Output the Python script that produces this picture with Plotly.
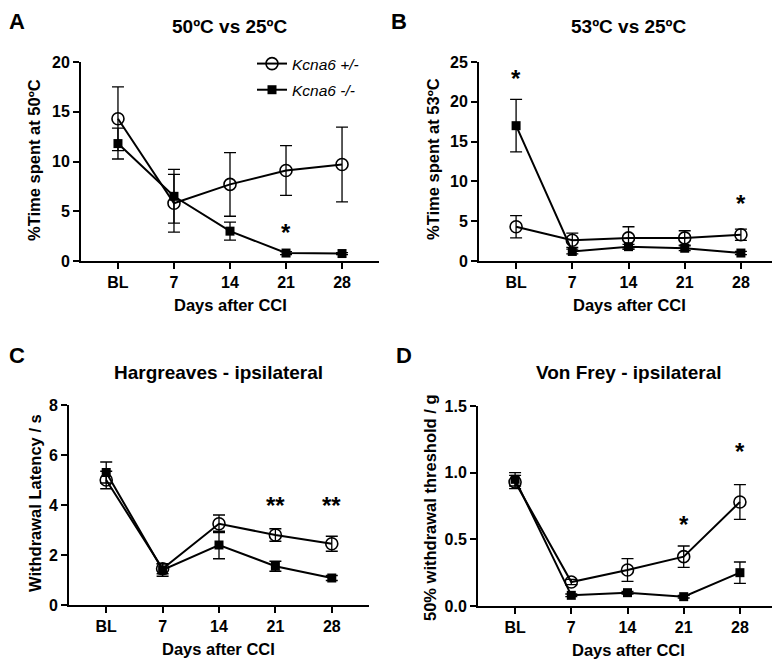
import plotly.graph_objects as go

W, H = 780, 661
OFF = 8  # page body margin offset

categories = ["BL", "7", "14", "21", "28"]

# Panel A: 50ºC vs 25ºC
a_het = [14.3, 5.8, 7.7, 9.1, 9.7]
a_het_err = [3.2, 2.9, 3.2, 2.5, 3.75]
a_ko = [11.8, 6.5, 3.0, 0.8, 0.75]
a_ko_err = [1.55, 2.7, 0.9, 0.15, 0.1]
a_stars = [("21", 3.4, "*")]

# Panel B: 53ºC vs 25ºC
b_het = [4.3, 2.6, 2.9, 2.9, 3.3]
b_het_err = [1.4, 0.9, 1.4, 0.9, 0.7]
b_ko = [17.0, 1.2, 1.8, 1.6, 1.0]
b_ko_err = [3.3, 0.3, 0.3, 0.3, 0.2]
b_stars = [("BL", 23.5, "*"), ("28", 7.9, "*")]

# Panel C: Hargreaves
c_het = [5.0, 1.45, 3.25, 2.8, 2.45]
c_het_err = [0.35, 0.2, 0.35, 0.25, 0.3]
c_ko = [5.3, 1.4, 2.4, 1.55, 1.08]
c_ko_err = [0.42, 0.25, 0.55, 0.2, 0.1]
c_stars = [("21", 4.2, "**"), ("28", 4.2, "**")]

# Panel D: Von Frey
d_het = [0.93, 0.18, 0.27, 0.37, 0.78]
d_het_err = [0.05, 0.02, 0.085, 0.08, 0.13]
d_ko = [0.95, 0.08, 0.10, 0.07, 0.25]
d_ko_err = [0.05, 0.01, 0.01, 0.01, 0.08]
d_stars = [("21", 0.65, "*"), ("28", 1.195, "*")]

het_name = "<i>Kcna6 +/-</i>"
ko_name = "<i>Kcna6 -/-</i>"

FONT = "Liberation Sans, Arial, sans-serif"


def px(x):
    return max(x - OFF, 0) / W


def py(y):
    return 1 - max(y - OFF, 0) / H


panels = [
    dict(het=a_het, het_err=a_het_err, ko=a_ko, ko_err=a_ko_err, stars=a_stars,
         yrange=[0, 20], dtick=5, fmt="d",
         box=(81, 379, 62, 261), title="50ºC vs 25ºC", title_pos=(230, 27),
         ytitle="%Time spent at 50ºC", ytitle_pos=(34, 160),
         letter="A", letter_pos=(2, 0)),
    dict(het=b_het, het_err=b_het_err, ko=b_ko, ko_err=b_ko_err, stars=b_stars,
         yrange=[0, 25], dtick=5, fmt="d",
         box=(479, 778, 62, 261), title="53ºC vs 25ºC", title_pos=(629, 27),
         ytitle="%Time spent at 53ºC", ytitle_pos=(433, 159),
         letter="B", letter_pos=(390, 0)),
    dict(het=c_het, het_err=c_het_err, ko=c_ko, ko_err=c_ko_err, stars=c_stars,
         yrange=[0, 8], dtick=2, fmt="d",
         box=(69, 369, 405, 605), title="Hargreaves - ipsilateral", title_pos=(218, 372),
         ytitle="Withdrawal Latency / s", ytitle_pos=(35, 503),
         letter="C", letter_pos=(2, 342)),
    dict(het=d_het, het_err=d_het_err, ko=d_ko, ko_err=d_ko_err, stars=d_stars,
         yrange=[0, 1.5], dtick=0.5, fmt=".1f",
         box=(478, 777, 406, 606), title="Von Frey - ipsilateral", title_pos=(628, 373),
         ytitle="50% withdrawal threshold / g", ytitle_pos=(430, 508),
         letter="D", letter_pos=(395, 342)),
]

fig = go.Figure()
annotations = []

for i, p in enumerate(panels):
    n = "" if i == 0 else str(i + 1)
    xa, ya = "x" + n, "y" + n
    l, r, t, b = p["box"]
    fig.add_trace(go.Scatter(
        x=categories, y=p["ko"], xaxis=xa, yaxis=ya, name=ko_name,
        mode="lines+markers", showlegend=False,
        line=dict(color="black", width=2),
        marker=dict(symbol="square", size=9, color="black"),
        error_y=dict(type="data", array=p["ko_err"], color="black", thickness=1.3, width=6),
        cliponaxis=False,
    ))
    fig.add_trace(go.Scatter(
        x=categories, y=p["het"], xaxis=xa, yaxis=ya, name=het_name,
        mode="lines+markers", showlegend=False,
        line=dict(color="black", width=2),
        marker=dict(symbol="circle-open", size=12, color="black", line=dict(width=1.6)),
        error_y=dict(type="data", array=p["het_err"], color="black", thickness=1.3, width=6),
        cliponaxis=False,
    ))
    axis_common = dict(
        showline=True, linecolor="black", linewidth=2,
        ticks="outside", ticklen=6, tickwidth=2, tickcolor="black",
        showgrid=False, zeroline=False, automargin=False,
        tickfont=dict(family=FONT, size=16, color="black", weight="bold"),
    )
    fig.layout["xaxis" + n] = dict(
        axis_common, domain=[px(l), px(r)], anchor=ya,
        type="category", range=[-0.66, 4.66],
    )
    fig.layout["yaxis" + n] = dict(
        axis_common, domain=[py(b), py(t)], anchor=xa,
        range=p["yrange"], dtick=p["dtick"], tickformat=p["fmt"],
    )
    tx, ty = p["title_pos"]
    annotations.append(dict(
        text="<b>%s</b>" % p["title"], xref="paper", yref="paper",
        x=px(tx), y=py(ty), showarrow=False,
        font=dict(family=FONT, size=19, color="black"),
        xanchor="center", yanchor="middle"))
    annotations.append(dict(
        text="<b>Days after CCI</b>", xref="paper", yref="paper",
        x=px(tx), y=py(b + 44), showarrow=False,
        font=dict(family=FONT, size=16.5, color="black"),
        xanchor="center", yanchor="middle"))
    yx, yy = p["ytitle_pos"]
    annotations.append(dict(
        text="<b>%s</b>" % p["ytitle"], xref="paper", yref="paper",
        x=px(yx), y=py(yy), showarrow=False, textangle=-90,
        font=dict(family=FONT, size=16.5, color="black"),
        xanchor="center", yanchor="middle"))
    lx, ly = p["letter_pos"]
    annotations.append(dict(
        text="<b>%s</b>" % p["letter"], xref="paper", yref="paper",
        x=px(lx), y=py(ly), showarrow=False, borderpad=0,
        font=dict(family=FONT, size=22, color="black"),
        xanchor="left", yanchor="top"))
    for (sx, sy, st) in p["stars"]:
        annotations.append(dict(
            text="<b>%s</b>" % st, xref=xa, yref=ya, x=categories.index(sx), y=sy,
            showarrow=False,
            font=dict(family=FONT, size=24, color="black"),
            xanchor="center", yanchor="middle", yshift=-5))

# legend entries (panel A)
fig.add_trace(go.Scatter(
    x=[None], y=[None], name=het_name, mode="lines+markers", legendgroup="het",
    line=dict(color="black", width=2),
    marker=dict(symbol="circle-open", size=12, color="black", line=dict(width=1.6)),
))
fig.add_trace(go.Scatter(
    x=[None], y=[None], name=ko_name, mode="lines+markers", legendgroup="ko",
    line=dict(color="black", width=2),
    marker=dict(symbol="square", size=9, color="black"),
))

fig.update_layout(
    width=W, height=H,
    margin=dict(l=0, r=0, t=0, b=0),
    paper_bgcolor="white", plot_bgcolor="white",
    annotations=annotations,
    showlegend=True,
    legend=dict(x=px(252), y=py(47), xanchor="left", yanchor="top",
                bgcolor="rgba(0,0,0,0)", itemwidth=30, tracegroupgap=3,
                font=dict(family=FONT, size=15.5, color="black")),
)

fig.write_html("out.html")
